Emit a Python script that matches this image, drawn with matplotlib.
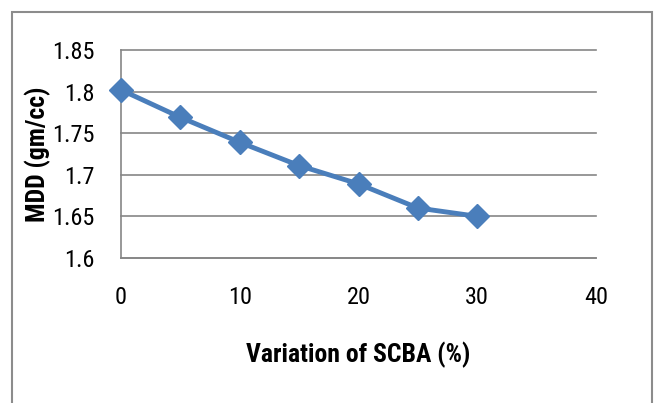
import matplotlib.pyplot as plt
from matplotlib.patches import Rectangle

scba = [0, 5, 10, 15, 20, 25, 30]
mdd = [1.802, 1.769, 1.739, 1.711, 1.689, 1.660, 1.650]

xticks = [0, 10, 20, 30, 40]
yticks = [1.6, 1.65, 1.7, 1.75, 1.8, 1.85]
ytick_labels = ['1.6', '1.65', '1.7', '1.75', '1.8', '1.85']

plt.rcParams['font.family'] = ['Roboto Condensed', 'Carlito', 'DejaVu Sans']

fig = plt.figure(figsize=(6.56, 4.03), dpi=100)
ax = fig.add_axes([0.1845, 0.36, 0.724, 0.516])

ax.plot(scba, mdd, color='#4A7EBB', linewidth=3.5, marker='D', markersize=12,
        clip_on=False, zorder=3)

ax.set_xlim(0, 40)
ax.set_ylim(1.6, 1.85)
ax.set_xticks(xticks)
ax.set_yticks(yticks)
ax.set_yticklabels(ytick_labels)
ax.tick_params(length=0, labelsize=17.5, colors='black')
ax.tick_params(axis='y', pad=19)
ax.tick_params(axis='x', pad=20)
ax.grid(axis='y', color='#868686', linewidth=1.2)
for gl in ax.get_ygridlines():
    gl.set_clip_on(False)
ax.set_axisbelow(True)
for s in ['top', 'right']:
    ax.spines[s].set_visible(False)
for s in ['left', 'bottom']:
    ax.spines[s].set_color('#868686')
    ax.spines[s].set_linewidth(1.2)

ax.set_xlabel('Variation of SCBA (%)', fontsize=18.5, fontweight='bold', labelpad=24)
ax.set_ylabel('MDD (gm/cc)', fontsize=18.5, fontweight='bold', labelpad=1)

# chart frame
fig.patches.append(Rectangle((12 / 656, -0.05), 640 / 656, 1.0 - 12 / 403 + 0.05,
                             transform=fig.transFigure, fill=False,
                             edgecolor='#8C8C8C', linewidth=1.5))

fig.savefig('out.png', dpi=100)
